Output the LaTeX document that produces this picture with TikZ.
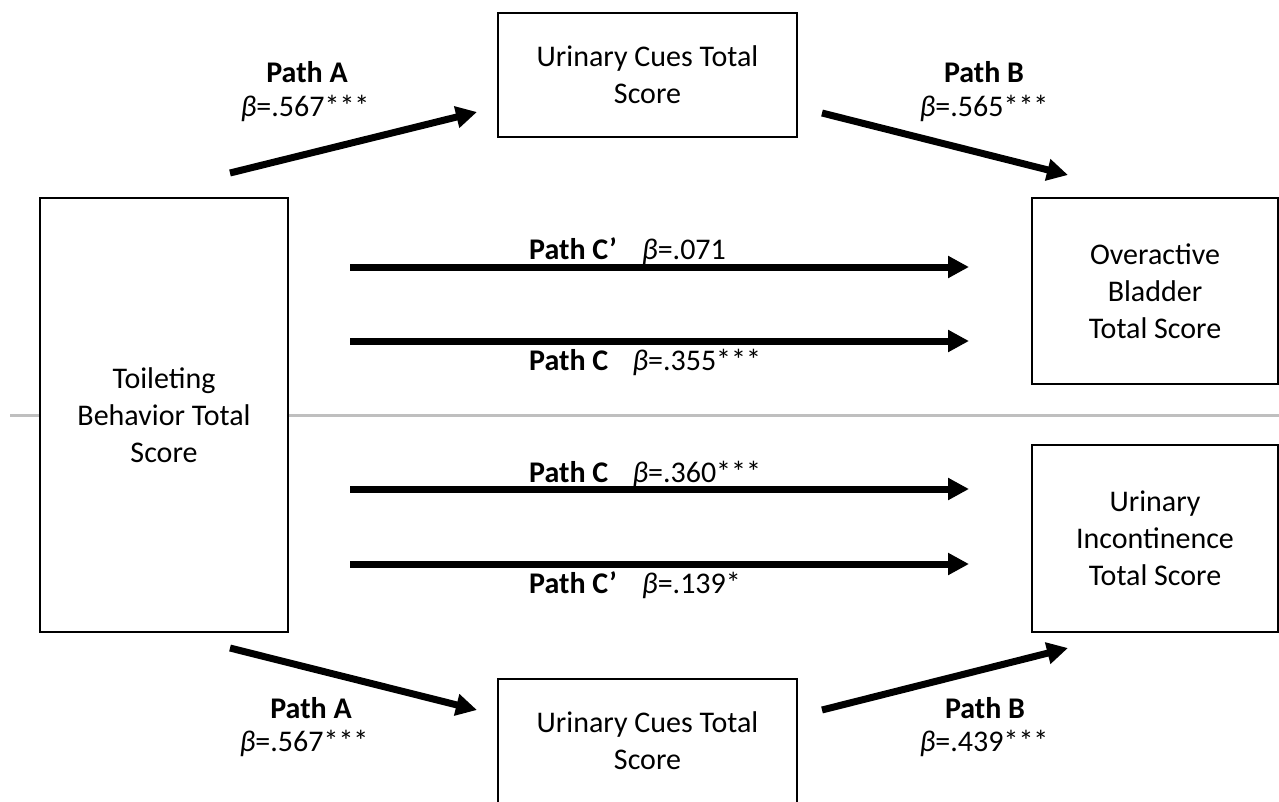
\documentclass[tikz,border=0pt]{standalone}
\usepackage{fontspec}
\setmainfont{Carlito}
\usetikzlibrary{arrows.meta}
\begin{document}
\begin{tikzpicture}[x=1pt,y=-1pt,
  box/.style={draw=black,line width=1.5pt,fill=white,align=center,inner sep=0pt,
    font=\fontsize{30}{37}\selectfont},
  arr/.style={line width=7pt,-{Triangle[length=21pt,width=21pt]}},
  lab/.style={anchor=base,inner sep=0pt,font=\fontsize{30}{36}\selectfont},
  hlab/.style={anchor=base west,inner sep=0pt,font=\fontsize{30}{36}\selectfont},
  divider/.style={draw=black!25,line width=3pt}]
\useasboundingbox (0,0) rectangle (1279,801);
% divider
\coordinate (dl) at (10,415);
\coordinate (dr) at (1279,415);
\draw[divider] (dl) -- (dr);
% boxes
\node[box,minimum width=299pt,minimum height=124pt] (cuesT) at (647.5,75) {Urinary Cues Total\\Score};
\node[box,minimum width=248pt,minimum height=434pt] (toil) at (164,415) {Toileting\\Behavior Total\\Score};
\node[box,minimum width=246pt,minimum height=186pt] (oab) at (1155,291) {Overactive\\Bladder\\Total Score};
\node[box,minimum width=246pt,minimum height=187pt] (ui) at (1155,538.5) {Urinary\\Incontinence\\Total Score};
\node[box,minimum width=299pt,minimum height=124pt] (cuesB) at (647.5,741) {Urinary Cues Total\\Score};
% arrow end points
\coordinate (aTs) at (230,173); \coordinate (aTe) at (477,112);
\coordinate (bTs) at (822,113); \coordinate (bTe) at (1068,175);
\coordinate (h1s) at (350,267); \coordinate (h1e) at (969,267);
\coordinate (h2s) at (350,341); \coordinate (h2e) at (969,341);
\coordinate (h3s) at (350,489); \coordinate (h3e) at (969,489);
\coordinate (h4s) at (350,564); \coordinate (h4e) at (969,564);
\coordinate (aBs) at (230,648); \coordinate (aBe) at (477,710);
\coordinate (bBs) at (822,710); \coordinate (bBe) at (1068,648);
\draw[arr] (aTs) -- (aTe);
\draw[arr] (bTs) -- (bTe);
\draw[arr] (h1s) -- (h1e);
\draw[arr] (h2s) -- (h2e);
\draw[arr] (h3s) -- (h3e);
\draw[arr] (h4s) -- (h4e);
\draw[arr] (aBs) -- (aBe);
\draw[arr] (bBs) -- (bBe);
% labels
\node[lab] (laT1) at (307,82) {\textbf{Path A}};
\node[lab] (laT2) at (305,116) {\textit{β}=.567***};
\node[lab] (lbT1) at (984,82) {\textbf{Path B}};
\node[lab] (lbT2) at (984,116) {\textit{β}=.565***};
\node[hlab] (lh1) at (529,259) {\textbf{Path C’}\hspace{25pt}\textit{β}=.071};
\node[hlab] (lh2) at (529,370) {\textbf{Path C}\hspace{24pt}\textit{β}=.355***};
\node[hlab] (lh3) at (529,482) {\textbf{Path C}\hspace{24pt}\textit{β}=.360***};
\node[hlab] (lh4) at (529,593) {\textbf{Path C’}\hspace{25pt}\textit{β}=.139*};
\node[lab] (laB1) at (311,718) {\textbf{Path A}};
\node[lab] (laB2) at (304,751) {\textit{β}=.567***};
\node[lab] (lbB1) at (985,718) {\textbf{Path B}};
\node[lab] (lbB2) at (984,751) {\textit{β}=.439***};
\end{tikzpicture}
\end{document}
